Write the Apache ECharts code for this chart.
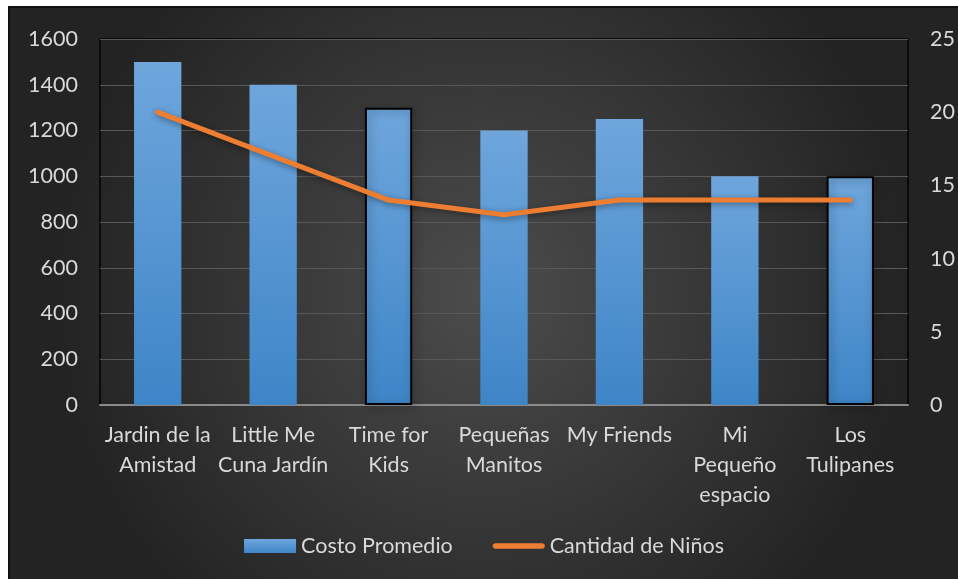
<!DOCTYPE html>
<html>
<head>
<meta charset="utf-8">
<script src="https://cdn.jsdelivr.net/npm/echarts@6/dist/echarts.min.js"></script>
<style>
html,body{margin:0;padding:0;background:#fff;}
#wrap{position:absolute;left:8px;top:6px;width:950px;height:573px;box-sizing:border-box;border:2px solid #111;border-right:none;border-bottom:none;}
#chart{position:absolute;left:0;top:0;width:948px;height:571px;}
</style>
</head>
<body>
<div id="wrap"><div id="chart"></div></div>
<script>
const categories = ['Jardin de la\nAmistad', 'Little Me\nCuna Jardín', 'Time for\nKids', 'Pequeñas\nManitos', 'My Friends', 'Mi\nPequeño\nespacio', 'Los\nTulipanes'];
const costoPromedio = [1500, 1400, 1300, 1200, 1250, 1000, 1000];
const cantidadNinos = [20, 17, 14, 13, 14, 14, 14];
const outlined = [false, false, true, false, false, false, true];
const leftTicks = {min: 0, max: 1600, interval: 200};
const rightTicks = {min: 0, max: 25, interval: 5};

const chart = echarts.init(document.getElementById('chart'));
const txt = '#d9d9d9';
const font = 'Lato, "Open Sans", sans-serif';
const fs = 21.5;
const barGrad = new echarts.graphic.LinearGradient(0, 0, 0, 1, [
  {offset: 0, color: '#6ea6dc'},
  {offset: 1, color: '#3e85c7'}
]);
chart.setOption({
  backgroundColor: new echarts.graphic.RadialGradient(0.5, 0.5, 0.75, [
    {offset: 0, color: '#4c4c4c'},
    {offset: 1, color: '#232323'}
  ]),
  textStyle: {fontFamily: font},
  grid: {left: 90, top: 31, right: 50, bottom: 174, show: true, borderColor: '#0a0a0a', borderWidth: 2, backgroundColor: 'transparent'},
  legend: {
    bottom: 17,
    left: 'center',
    itemWidth: 52,
    itemHeight: 14,
    itemGap: 40,
    textStyle: {color: txt, fontSize: fs, fontFamily: font},
    data: [
      {name: 'Costo Promedio', icon: 'rect'},
      {name: 'Cantidad de Niños', icon: 'path://M3,0 L55,0 A3,3 0 0 1 55,6 L3,6 A3,3 0 0 1 3,0 Z', itemStyle: {color: '#ed7d31'}}
    ]
  },
  xAxis: {
    type: 'category',
    data: categories,
    axisLine: {show: true, lineStyle: {color: '#8a8a8a', width: 2}},
    axisTick: {show: false},
    axisLabel: {color: txt, fontSize: fs, lineHeight: 30, margin: 15, interval: 0, fontFamily: font}
  },
  yAxis: [
    {
      type: 'value', min: leftTicks.min, max: leftTicks.max, interval: leftTicks.interval,
      axisLine: {show: false}, axisTick: {show: false},
      axisLabel: {color: txt, fontSize: fs, margin: 22, fontFamily: font, formatter: v => String(v)},
      splitLine: {show: true, lineStyle: {color: '#585858', width: 1}}
    },
    {
      type: 'value', min: rightTicks.min, max: rightTicks.max, interval: rightTicks.interval,
      axisLine: {show: false}, axisTick: {show: false},
      axisLabel: {color: txt, fontSize: fs, margin: 22, fontFamily: font, formatter: v => String(v)},
      splitLine: {show: false}
    }
  ],
  series: [
    {
      name: 'Costo Promedio',
      type: 'bar',
      barWidth: '41%',
      data: costoPromedio.map((v, i) => ({
        value: v,
        itemStyle: outlined[i] ? {borderColor: '#000', borderWidth: 2} : {}
      })),
      itemStyle: {
        color: barGrad,
        shadowColor: 'rgba(0,0,0,0.45)',
        shadowBlur: 8,
        shadowOffsetX: 2,
        shadowOffsetY: 2
      },
      z: 2
    },
    {
      name: 'Cantidad de Niños',
      type: 'line',
      yAxisIndex: 1,
      data: cantidadNinos,
      symbol: 'none',
      lineStyle: {color: '#ed7d31', width: 5, cap: 'round', join: 'round', shadowColor: 'rgba(0,0,0,0.4)', shadowBlur: 6, shadowOffsetY: 2},
      itemStyle: {color: '#ed7d31'},
      z: 3
    }
  ]
});
</script>
</body>
</html>
